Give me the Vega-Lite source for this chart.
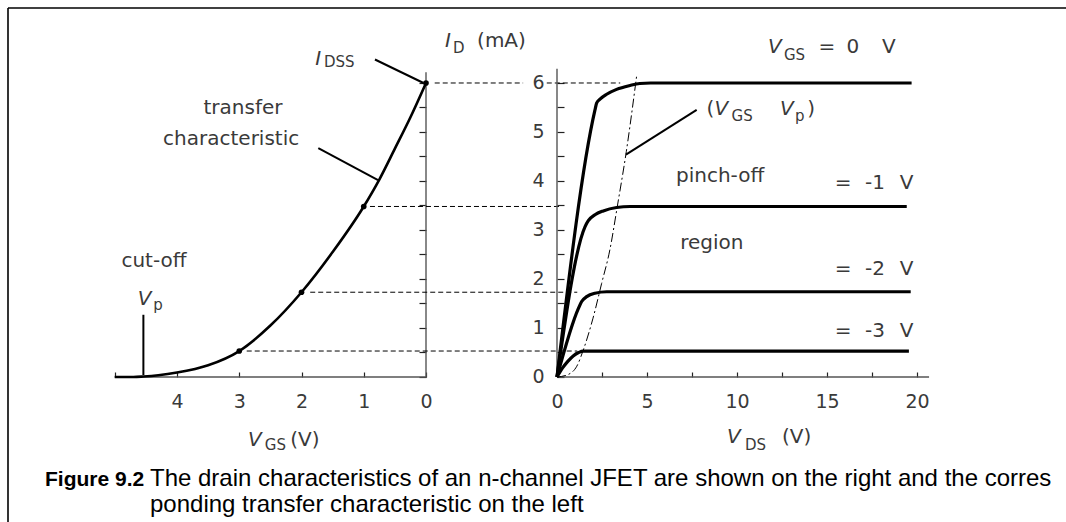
{
  "$schema": "https://vega.github.io/schema/vega-lite/v6.json",
  "width": 1058,
  "height": 514,
  "autosize": {"type": "none"},
  "padding": {"left": 8, "top": 8, "right": 0, "bottom": 0},
  "background": "white",
  "config": {
    "view": {"stroke": null},
    "text": {"font": "DejaVu Sans"},
    "axis": {"labelFont": "DejaVu Sans", "labelFontSize": 19, "labelColor": "#3a3a3a", "tickColor": "#222", "tickWidth": 1.2, "domain": false, "grid": false, "labelOverlap": false, "labelFlush": false}
  },
  "datasets": {
    "frame": [
      {"vgs": -6.7149, "vgs2": 10.2811, "id": 7.5306, "id2": 7.5306},
      {"vgs": -6.7149, "vgs2": -6.7149, "id": -2.9592, "id2": 7.5306}
    ],
    "axL": [
      {"vgs": -5, "vgs2": 0, "id": 0, "id2": 0},
      {"vgs": 0, "vgs2": 0, "id": 0, "id2": 6.22}
    ],
    "dashL": [
      {"vgs": 0.14, "vgs2": 1.56, "id": 6.0},
      {"vgs": 1.94, "vgs2": 3.12, "id": 6.0},
      {"vgs": -0.9, "vgs2": 2.16, "id": 3.48},
      {"vgs": -1.86, "vgs2": 2.43, "id": 1.73},
      {"vgs": -2.88, "vgs2": 2.43, "id": 0.53}
    ],
    "tc": [
      {"vgs": -5.0, "id": 0}, {"vgs": -4.7, "id": 0.0}, {"vgs": -4.54, "id": 0.01}, {"vgs": -4.3, "id": 0.035},
      {"vgs": -4.0, "id": 0.09}, {"vgs": -3.5, "id": 0.24}, {"vgs": -3.0, "id": 0.53},
      {"vgs": -2.5, "id": 1.05}, {"vgs": -2.0, "id": 1.73}, {"vgs": -1.5, "id": 2.55},
      {"vgs": -1.0, "id": 3.48}, {"vgs": -0.75, "id": 4.03}, {"vgs": -0.5, "id": 4.66},
      {"vgs": -0.25, "id": 5.3}, {"vgs": 0, "id": 6.0}
    ],
    "tcDots": [
      {"vgs": -3, "id": 0.53}, {"vgs": -2, "id": 1.73}, {"vgs": -1, "id": 3.48}, {"vgs": 0, "id": 6.0}
    ],
    "leadL": [
      {"vgs": -0.82, "vgs2": -0.04, "id": 6.48, "id2": 6.0},
      {"vgs": -1.73, "vgs2": -0.77, "id": 4.67, "id2": 4.02},
      {"vgs": -4.54, "vgs2": -4.54, "id": 0.04, "id2": 1.27}
    ],
    "txtLc": [
      {"vgs": -2.94, "id": 5.37, "text": "transfer"},
      {"vgs": -3.13, "id": 4.73, "text": "characteristic"},
      {"vgs": -4.37, "id": 2.25, "text": "cut-off"}
    ],
    "txtLl": [
      {"vgs": -2.18, "id": -1.4, "text": "(V)"}
    ],
    "itL": [
      {"vgs": -1.78, "id": 6.37, "text": "I"},
      {"vgs": -4.63, "id": 1.47, "text": "V"},
      {"vgs": -2.86, "id": -1.4, "text": "V"}
    ],
    "subL": [
      {"vgs": -1.64, "id": 6.33, "text": "DSS"},
      {"vgs": -4.38, "id": 1.37, "text": "p"},
      {"vgs": -2.59, "id": -1.49, "text": "GS"}
    ],
    "capB": [
      {"vgs": -6.12, "id": -2.2245, "text": "Figure 9.2"}
    ],
    "capN": [
      {"vgs": -4.434, "id": -2.2245, "text": "The drain characteristics of an n-channel JFET are shown on the right and the corres"},
      {"vgs": -4.434, "id": -2.755, "text": "ponding transfer characteristic on the left"}
    ],
    "axR": [
      {"vds": 0, "vds2": 20.67, "id": 0, "id2": 0},
      {"vds": 0, "vds2": 0, "id": 0, "id2": 6.29}
    ],
    "curves": [
      {"vg": "0", "vds": 0, "id": 0}, {"vg": "0", "vds": 2.11, "id": 5.45}, {"vg": "0", "vds": 2.2, "id": 5.59},
      {"vg": "0", "vds": 2.39, "id": 5.67}, {"vg": "0", "vds": 2.76, "id": 5.77}, {"vg": "0", "vds": 3.31, "id": 5.87},
      {"vg": "0", "vds": 4.06, "id": 5.95}, {"vg": "0", "vds": 4.6, "id": 5.99}, {"vg": "0", "vds": 5.2, "id": 6.0},
      {"vg": "0", "vds": 19.7, "id": 6.0},
      {"vg": "-1", "vds": 0, "id": 0}, {"vg": "-1", "vds": 1.56, "id": 3.07}, {"vg": "-1", "vds": 1.74, "id": 3.19},
      {"vg": "-1", "vds": 2.11, "id": 3.31}, {"vg": "-1", "vds": 2.57, "id": 3.39}, {"vg": "-1", "vds": 3.31, "id": 3.46},
      {"vg": "-1", "vds": 4.06, "id": 3.48}, {"vg": "-1", "vds": 4.43, "id": 3.48}, {"vg": "-1", "vds": 19.43, "id": 3.48},
      {"vg": "-2", "vds": 0, "id": 0}, {"vg": "-2", "vds": 1.19, "id": 1.4}, {"vg": "-2", "vds": 1.37, "id": 1.54},
      {"vg": "-2", "vds": 1.65, "id": 1.64}, {"vg": "-2", "vds": 2.11, "id": 1.71}, {"vg": "-2", "vds": 2.76, "id": 1.74},
      {"vg": "-2", "vds": 3.2, "id": 1.74}, {"vg": "-2", "vds": 19.65, "id": 1.74},
      {"vg": "-3", "vds": 0, "id": 0}, {"vg": "-3", "vds": 0.3, "id": 0.18}, {"vg": "-3", "vds": 0.6, "id": 0.32},
      {"vg": "-3", "vds": 0.9, "id": 0.43}, {"vg": "-3", "vds": 1.2, "id": 0.5}, {"vg": "-3", "vds": 1.45, "id": 0.53},
      {"vg": "-3", "vds": 2.0, "id": 0.53}, {"vg": "-3", "vds": 19.55, "id": 0.53}
    ],
    "locus": [
      {"vds": 0, "id": 0}, {"vds": 0.55, "id": 0.04}, {"vds": 1.1, "id": 0.22}, {"vds": 1.46, "id": 0.55},
      {"vds": 2.0, "id": 1.2}, {"vds": 2.48, "id": 1.91}, {"vds": 2.94, "id": 2.6}, {"vds": 3.35, "id": 3.48},
      {"vds": 3.85, "id": 4.6}, {"vds": 4.43, "id": 6.16}
    ],
    "leadR": [
      {"vds": 3.83, "vds2": 7.76, "id": 4.54, "id2": 5.45}
    ],
    "txtRc": [
      {"vds": 9.06, "id": 3.98, "text": "pinch-off"},
      {"vds": 8.6, "id": 2.61, "text": "region"},
      {"vds": 15.0, "id": 6.61, "text": "="},
      {"vds": 16.44, "id": 6.61, "text": "0"},
      {"vds": 18.44, "id": 6.61, "text": "V"},
      {"vds": 15.9, "id": 3.84, "text": "="},
      {"vds": 17.67, "id": 3.84, "text": "-1"},
      {"vds": 19.42, "id": 3.84, "text": "V"},
      {"vds": 15.9, "id": 2.08, "text": "="},
      {"vds": 17.67, "id": 2.08, "text": "-2"},
      {"vds": 19.42, "id": 2.08, "text": "V"},
      {"vds": 15.9, "id": 0.82, "text": "="},
      {"vds": 17.67, "id": 0.82, "text": "-3"},
      {"vds": 19.42, "id": 0.82, "text": "V"}
    ],
    "txtRl": [
      {"vds": -4.44, "id": 6.73, "text": "(mA)"},
      {"vds": 12.5, "id": -1.35, "text": "(V)"},
      {"vds": 8.3, "id": 5.35, "text": "("},
      {"vds": 13.9, "id": 5.35, "text": ")"}
    ],
    "itR": [
      {"vds": -6.22, "id": 6.74, "text": "I"},
      {"vds": 9.44, "id": -1.35, "text": "V"},
      {"vds": 11.72, "id": 6.61, "text": "V"},
      {"vds": 8.75, "id": 5.35, "text": "V"},
      {"vds": 12.39, "id": 5.35, "text": "V"}
    ],
    "subR": [
      {"vds": -5.78, "id": 6.61, "text": "D"},
      {"vds": 10.44, "id": -1.49, "text": "DS"},
      {"vds": 12.61, "id": 6.47, "text": "GS"},
      {"vds": 9.7, "id": 5.22, "text": "GS"},
      {"vds": 13.22, "id": 5.22, "text": "p"}
    ]
  },
  "layer": [
    {
      "encoding": {
        "x": {"field": "vgs", "type": "quantitative",
              "scale": {"domain": [-6.7149, 10.2811], "nice": false, "zero": false},
              "axis": {"orient": "bottom", "offset": -145, "values": [-5, -4, -3, -2, -1, 0],
                       "labelExpr": "datum.value == -5 ? '' : '' + abs(datum.value)",
                       "tickSize": -5, "labelPadding": 20, "title": null}},
        "y": {"field": "id", "type": "quantitative",
              "scale": {"domain": [-2.9592, 7.5306], "nice": false, "zero": false},
              "axis": {"orient": "left", "offset": -418, "values": [0, 0.5, 1, 1.5, 2, 2.5, 3, 3.5, 4, 4.5, 5, 5.5, 6],
                       "labels": false, "tickSize": 7, "title": null}}
      },
      "layer": [
        {"data": {"name": "frame"}, "mark": {"type": "rule", "color": "#000", "strokeWidth": 1.6},
         "encoding": {"x2": {"field": "vgs2"}, "y2": {"field": "id2"}}},
        {"data": {"name": "axL"}, "mark": {"type": "rule", "color": "#555", "strokeWidth": 1.4},
         "encoding": {"x2": {"field": "vgs2"}, "y2": {"field": "id2"}}},
        {"data": {"name": "dashL"}, "mark": {"type": "rule", "color": "#000", "strokeWidth": 1, "strokeDash": [5, 3]},
         "encoding": {"x2": {"field": "vgs2"}}},
        {"data": {"name": "tc"}, "mark": {"type": "line", "color": "#000", "strokeWidth": 2.6, "interpolate": "monotone"},
         "encoding": {}},
        {"data": {"name": "tcDots"}, "mark": {"type": "point", "filled": true, "color": "#000", "size": 32, "opacity": 1},
         "encoding": {}},
        {"data": {"name": "leadL"}, "mark": {"type": "rule", "color": "#000", "strokeWidth": 2},
         "encoding": {"x2": {"field": "vgs2"}, "y2": {"field": "id2"}}},
        {"data": {"name": "txtLc"}, "mark": {"type": "text", "align": "center", "baseline": "alphabetic", "fontSize": 20, "color": "#3a3a3a"},
         "encoding": {"text": {"field": "text"}}},
        {"data": {"name": "txtLl"}, "mark": {"type": "text", "align": "left", "baseline": "alphabetic", "fontSize": 20, "color": "#3a3a3a"},
         "encoding": {"text": {"field": "text"}}},
        {"data": {"name": "itL"}, "mark": {"type": "text", "align": "left", "baseline": "alphabetic", "fontSize": 20, "fontStyle": "italic", "color": "#3a3a3a"},
         "encoding": {"text": {"field": "text"}}},
        {"data": {"name": "subL"}, "mark": {"type": "text", "align": "left", "baseline": "alphabetic", "fontSize": 15, "color": "#3a3a3a"},
         "encoding": {"text": {"field": "text"}}},
        {"data": {"name": "capB"}, "mark": {"type": "text", "align": "left", "baseline": "alphabetic", "fontSize": 21, "fontWeight": "bold", "font": "Liberation Sans", "color": "#000"},
         "encoding": {"text": {"field": "text"}}},
        {"data": {"name": "capN"}, "mark": {"type": "text", "align": "left", "baseline": "alphabetic", "fontSize": 24, "font": "Liberation Sans", "color": "#000"},
         "encoding": {"text": {"field": "text"}}}
      ]
    },
    {
      "encoding": {
        "x": {"field": "vds", "type": "quantitative",
              "scale": {"domain": [-30.5, 28.2778], "nice": false, "zero": false},
              "axis": {"orient": "bottom", "offset": -145, "values": [0, 2.5, 5, 7.5, 10, 12.5, 15, 17.5, 20],
                       "labelExpr": "datum.value % 5 == 0 ? datum.label : ''",
                       "tickSize": -5, "labelPadding": 20, "title": null}},
        "y": {"field": "id", "type": "quantitative",
              "scale": {"domain": [-2.9592, 7.5306], "nice": false, "zero": false},
              "axis": {"orient": "left", "offset": -549, "values": [0, 0.5, 1, 1.5, 2, 2.5, 3, 3.5, 4, 4.5, 5, 5.5, 6],
                       "labelExpr": "datum.value % 1 == 0 ? datum.label : ''",
                       "tickSize": -7, "labelPadding": 20, "title": null}}
      },
      "layer": [
        {"data": {"name": "axR"}, "mark": {"type": "rule", "color": "#555", "strokeWidth": 1.4},
         "encoding": {"x2": {"field": "vds2"}, "y2": {"field": "id2"}}},
        {"data": {"name": "locus"}, "mark": {"type": "line", "color": "#000", "strokeWidth": 1, "strokeDash": [9, 3, 2, 3], "interpolate": "monotone"},
         "encoding": {}},
        {"data": {"name": "curves"}, "mark": {"type": "line", "color": "#000", "strokeWidth": 3.2, "interpolate": "monotone"},
         "encoding": {"detail": {"field": "vg"}}},
        {"data": {"name": "leadR"}, "mark": {"type": "rule", "color": "#000", "strokeWidth": 2},
         "encoding": {"x2": {"field": "vds2"}, "y2": {"field": "id2"}}},
        {"data": {"name": "txtRc"}, "mark": {"type": "text", "align": "center", "baseline": "alphabetic", "fontSize": 20, "color": "#3a3a3a"},
         "encoding": {"text": {"field": "text"}}},
        {"data": {"name": "txtRl"}, "mark": {"type": "text", "align": "left", "baseline": "alphabetic", "fontSize": 20, "color": "#3a3a3a"},
         "encoding": {"text": {"field": "text"}}},
        {"data": {"name": "itR"}, "mark": {"type": "text", "align": "left", "baseline": "alphabetic", "fontSize": 20, "fontStyle": "italic", "color": "#3a3a3a"},
         "encoding": {"text": {"field": "text"}}},
        {"data": {"name": "subR"}, "mark": {"type": "text", "align": "left", "baseline": "alphabetic", "fontSize": 15, "color": "#3a3a3a"},
         "encoding": {"text": {"field": "text"}}}
      ]
    }
  ],
  "resolve": {"scale": {"x": "independent"}, "axis": {"x": "independent", "y": "independent"}}
}
